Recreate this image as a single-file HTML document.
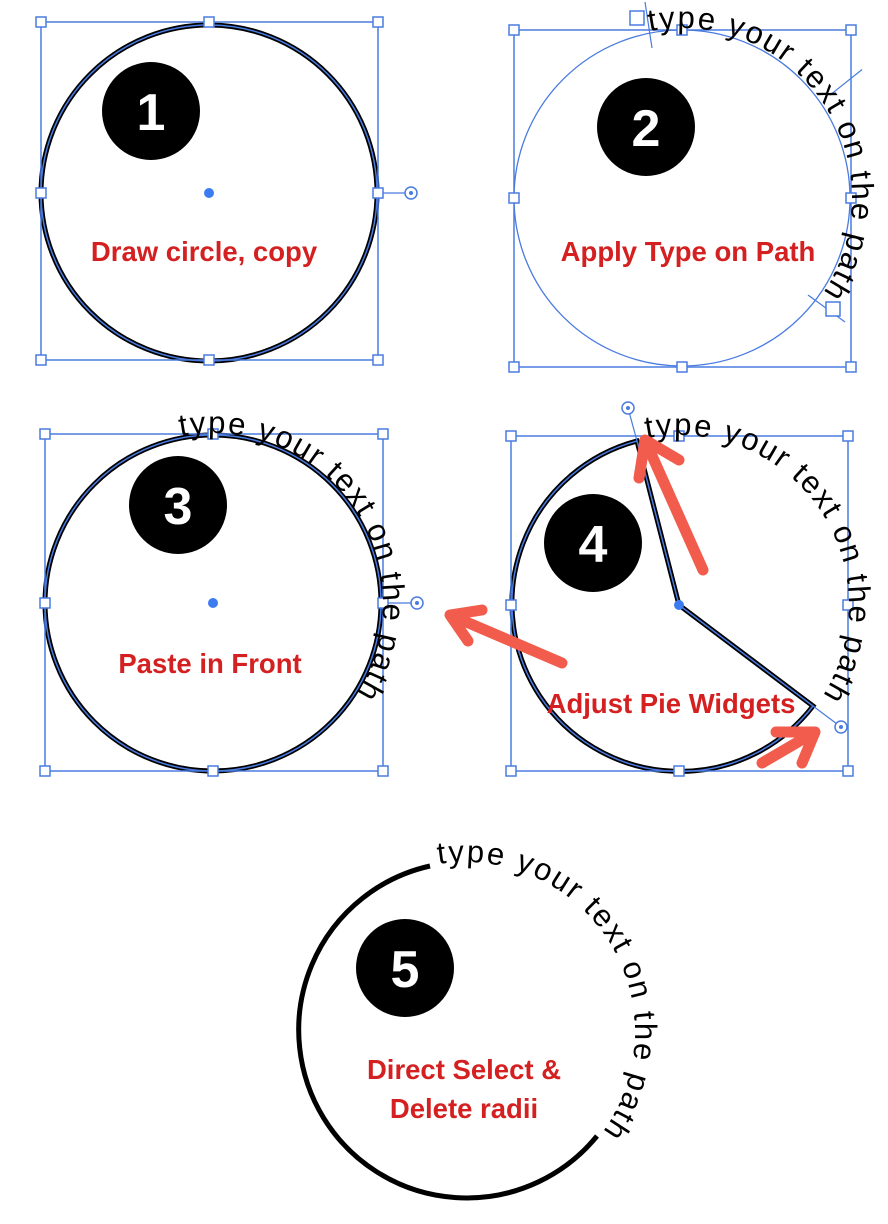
<!DOCTYPE html>
<html><head><meta charset="utf-8"><style>
html,body{margin:0;padding:0;background:#fff}
svg{display:block}
.lbl{font-family:"Liberation Sans",sans-serif;font-weight:bold;fill:#d42020;font-size:27.5px;text-anchor:middle}
.num{font-family:"Liberation Sans",sans-serif;font-weight:bold;fill:#fff;font-size:52px;text-anchor:middle}
.tp{font-family:"Liberation Sans","DejaVu Sans",sans-serif;font-size:31px;fill:#000}
.h{fill:#fff;stroke:#4a7be0;stroke-width:1.5}
.bb{fill:none;stroke:#4a7be0;stroke-width:1.5}
.arr{fill:none;stroke:#f25c4c;stroke-width:11;stroke-linecap:round;stroke-linejoin:round}
</style></head><body>
<svg width="888" height="1224" viewBox="0 0 888 1224" xmlns="http://www.w3.org/2000/svg">
<defs>
<path id="p2" d="M682,28 A170,170 0 1 1 682,368 A170,170 0 1 1 682,28"/>
<path id="p3" d="M213,433 A170,170 0 1 1 213,773 A170,170 0 1 1 213,433"/>
<path id="p4" d="M679,435 A170,170 0 1 1 679,775 A170,170 0 1 1 679,435"/>
<path id="p5" d="M465,862 A170,170 0 1 1 465,1202 A170,170 0 1 1 465,862"/>
</defs>

<!-- Panel 1 -->
<circle cx="209" cy="193" r="168" fill="none" stroke="#000" stroke-width="5"/>
<circle cx="209" cy="193" r="168" fill="none" stroke="#4a7be0" stroke-width="1.5"/>
<rect x="41" y="22" width="337" height="338" class="bb"/>
<line x1="378" y1="193" x2="411" y2="193" stroke="#4a7be0" stroke-width="1.2"/>
<circle cx="411" cy="193" r="6" class="h"/><circle cx="411" cy="193" r="2" fill="#4a7be0"/>
<g>
<rect x="36" y="17" width="10" height="10" class="h"/><rect x="204" y="17" width="10" height="10" class="h"/><rect x="373" y="17" width="10" height="10" class="h"/>
<rect x="36" y="188" width="10" height="10" class="h"/><rect x="373" y="188" width="10" height="10" class="h"/>
<rect x="36" y="355" width="10" height="10" class="h"/><rect x="204" y="355" width="10" height="10" class="h"/><rect x="373" y="355" width="10" height="10" class="h"/>
</g>
<circle cx="209" cy="193" r="5" fill="#3d7cf0"/>
<circle cx="151" cy="111" r="49" fill="#000"/><text x="151" y="130" class="num">1</text>
<text x="204" y="261" class="lbl">Draw circle, copy</text>

<!-- Panel 2 -->
<circle cx="682" cy="198" r="168" fill="none" stroke="#4a7be0" stroke-width="1.3"/>
<rect x="514" y="30" width="337" height="337" class="bb"/>
<line x1="645" y1="2" x2="652" y2="48" stroke="#4a7be0" stroke-width="1.2"/>
<line x1="826" y1="82" x2="867" y2="83" stroke="#4a7be0" stroke-width="1.2" transform="rotate(-40 846 83)"/>
<line x1="808" y1="295" x2="845" y2="322" stroke="#4a7be0" stroke-width="1.2"/>
<rect x="509" y="25" width="10" height="10" class="h"/><rect x="677" y="25" width="10" height="10" class="h"/><rect x="846" y="25" width="10" height="10" class="h"/>
<rect x="509" y="193" width="10" height="10" class="h"/><rect x="846" y="193" width="10" height="10" class="h"/>
<rect x="509" y="362" width="10" height="10" class="h"/><rect x="677" y="362" width="10" height="10" class="h"/><rect x="846" y="362" width="10" height="10" class="h"/>
<rect x="630" y="11" width="14" height="14" class="h"/><rect x="826" y="302" width="14" height="14" class="h"/>
<g transform="rotate(-11 682 198)"><text class="tp"><textPath href="#p2" textLength="400" lengthAdjust="spacing">type your text on the path</textPath></text></g>
<circle cx="646" cy="127" r="49" fill="#000"/><text x="646" y="146" class="num">2</text>
<text x="688" y="261" class="lbl">Apply Type on Path</text>

<!-- Panel 3 -->
<circle cx="213" cy="603" r="168" fill="none" stroke="#000" stroke-width="5"/>
<circle cx="213" cy="603" r="168" fill="none" stroke="#4a7be0" stroke-width="1.5"/>
<rect x="45" y="434" width="338" height="337" class="bb"/>
<line x1="383" y1="603" x2="417" y2="603" stroke="#4a7be0" stroke-width="1.2"/>
<circle cx="417" cy="603" r="6" class="h"/><circle cx="417" cy="603" r="2" fill="#4a7be0"/>
<rect x="40" y="429" width="10" height="10" class="h"/><rect x="208" y="429" width="10" height="10" class="h"/><rect x="378" y="429" width="10" height="10" class="h"/>
<rect x="40" y="598" width="10" height="10" class="h"/><rect x="378" y="598" width="10" height="10" class="h"/>
<rect x="40" y="766" width="10" height="10" class="h"/><rect x="208" y="766" width="10" height="10" class="h"/><rect x="378" y="766" width="10" height="10" class="h"/>
<g transform="rotate(-11 213 603)"><text class="tp"><textPath href="#p3" textLength="395" lengthAdjust="spacing">type your text on the path</textPath></text></g>
<circle cx="213" cy="603" r="5" fill="#3d7cf0"/>
<circle cx="178" cy="505" r="49" fill="#000"/><text x="178" y="524" class="num">3</text>
<text x="210" y="673" class="lbl">Paste in Front</text>

<!-- Panel 4 -->
<path d="M679,605 L637,441 A168,168 0 1 0 813,706 Z" fill="none" stroke="#000" stroke-width="5" stroke-linejoin="miter"/>
<path d="M679,605 L637,441 A168,168 0 1 0 813,706 Z" fill="none" stroke="#4a7be0" stroke-width="1.5"/>
<rect x="511" y="436" width="337" height="335" class="bb"/>
<line x1="628" y1="408" x2="637" y2="441" stroke="#4a7be0" stroke-width="1.2"/>
<line x1="813" y1="706" x2="841" y2="727" stroke="#4a7be0" stroke-width="1.2"/>
<circle cx="628" cy="408" r="6" class="h"/><circle cx="628" cy="408" r="2" fill="#4a7be0"/>
<circle cx="841" cy="727" r="6" class="h"/><circle cx="841" cy="727" r="2" fill="#4a7be0"/>
<rect x="506" y="431" width="10" height="10" class="h"/><rect x="674" y="431" width="10" height="10" class="h"/><rect x="843" y="431" width="10" height="10" class="h"/>
<rect x="506" y="600" width="10" height="10" class="h"/><rect x="843" y="600" width="10" height="10" class="h"/>
<rect x="506" y="766" width="10" height="10" class="h"/><rect x="674" y="766" width="10" height="10" class="h"/><rect x="843" y="766" width="10" height="10" class="h"/>
<g transform="rotate(-11 679 605)"><text class="tp"><textPath href="#p4" textLength="395" lengthAdjust="spacing">type your text on the path</textPath></text></g>
<circle cx="679" cy="605" r="5" fill="#3d7cf0"/>
<circle cx="593" cy="543" r="49" fill="#000"/><text x="593" y="562" class="num">4</text>
<text x="671" y="713" class="lbl">Adjust Pie Widgets</text>
<!-- arrows -->
<path class="arr" d="M703,570 L645,440 M639,478 L645,440 L679,460"/>
<path class="arr" d="M562,663 L450,615 M468,641 L450,615 L482,610"/>
<path class="arr" d="M762,763 L815,732 M776,732 L815,732 L802,763"/>

<!-- Panel 5 -->
<path d="M430,866 A168,168 0 1 0 597,1136" fill="none" stroke="#000" stroke-width="5"/>
<g transform="rotate(-9 465 1032)"><text class="tp"><textPath href="#p5" textLength="400" lengthAdjust="spacing">type your text on the path</textPath></text></g>
<circle cx="405" cy="968" r="49" fill="#000"/><text x="405" y="987" class="num">5</text>
<text x="464" y="1079" class="lbl">Direct Select &amp;</text>
<text x="464" y="1118" class="lbl">Delete radii</text>
</svg>
</body></html>
